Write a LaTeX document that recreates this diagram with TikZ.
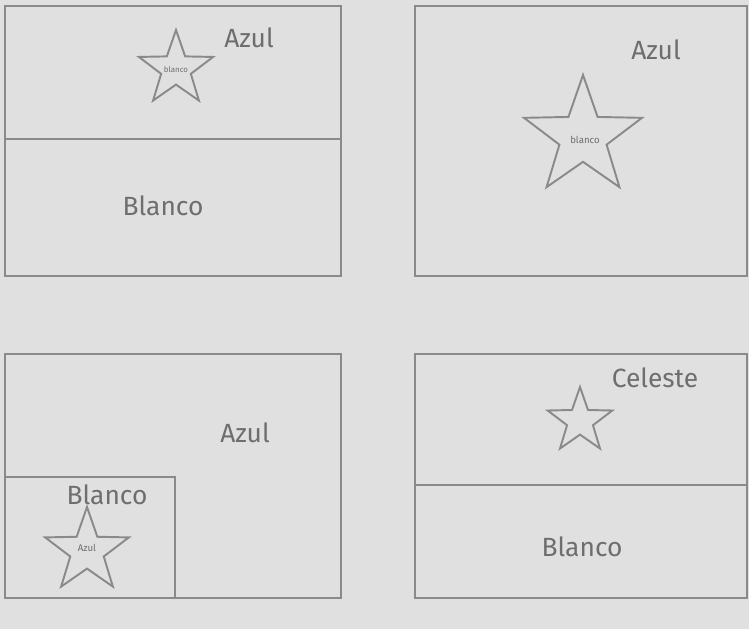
\documentclass[tikz,border=0pt]{standalone}
\usepackage{fontspec}
\setmainfont{Fira Sans}
\usetikzlibrary{shapes.geometric}

\definecolor{paper}{HTML}{E0E0E0}
\definecolor{ink}{HTML}{8A8A8A}
\definecolor{lettering}{HTML}{6E6E6E}

\begin{document}
\begin{tikzpicture}[
  x=0.02cm, y=-0.02cm,
  frame/.style  = {draw=ink, line width=1.6pt},
  flagstar/.style = {star, star points=5, star point ratio=2.5, draw=ink,
                     line width=1.1pt, inner sep=0pt},
  tiny/.style   = {text=lettering, font=\fontsize{4.5}{5}\selectfont, inner sep=0pt},
  colour/.style = {text=lettering, font=\fontsize{15}{18}\selectfont, inner sep=0pt},
]
  % Background and fixed margins
  \fill[paper] (0,0) rectangle (749,629);
  \useasboundingbox (0,0) rectangle (749,629);

  % Flag 1: two bands, small star
  \draw[frame] (5,6) rectangle (341,276);
  \draw[frame] (5,139) -- (341,139);
  \node[flagstar, minimum size=78*0.02cm] (starA) at (176,69) {};
  \node[tiny] (starAtext) at (176,70) {blanco};
  \node[colour] (azulA)   at (249,38)  {Azul};
  \node[colour] (blancoA) at (163,206) {Blanco};

  % Flag 2: plain field, large star
  \draw[frame] (415,6) rectangle (747,276);
  \node[flagstar, minimum size=124*0.02cm] (starB) at (583,137) {};
  \node[tiny, font=\fontsize{5.5}{6}\selectfont] (starBtext) at (585,140) {blanco};
  \node[colour] (azulB) at (656,50) {Azul};

  % Flag 3: canton in the lower corner
  \draw[frame] (5,354) rectangle (341,598);
  \draw[frame] (5,477) -- (175,477) -- (175,598);
  \node[flagstar, minimum size=88*0.02cm] (starC) at (87,551) {};
  \node[tiny, font=\fontsize{5.5}{6}\selectfont] (starCtext) at (87,548) {Azul};
  \node[colour] (azulC)   at (245,433) {Azul};
  \node[colour] (blancoC) at (107,495) {Blanco};

  % Flag 4: two bands, small empty star
  \draw[frame] (415,354) rectangle (747,598);
  \draw[frame] (415,485) -- (747,485);
  \node[flagstar, minimum size=68*0.02cm] (starD) at (580,421) {};
  \node[colour] (celesteD) at (655,378) {Celeste};
  \node[colour] (blancoD)  at (582,547) {Blanco};
\end{tikzpicture}
\end{document}
